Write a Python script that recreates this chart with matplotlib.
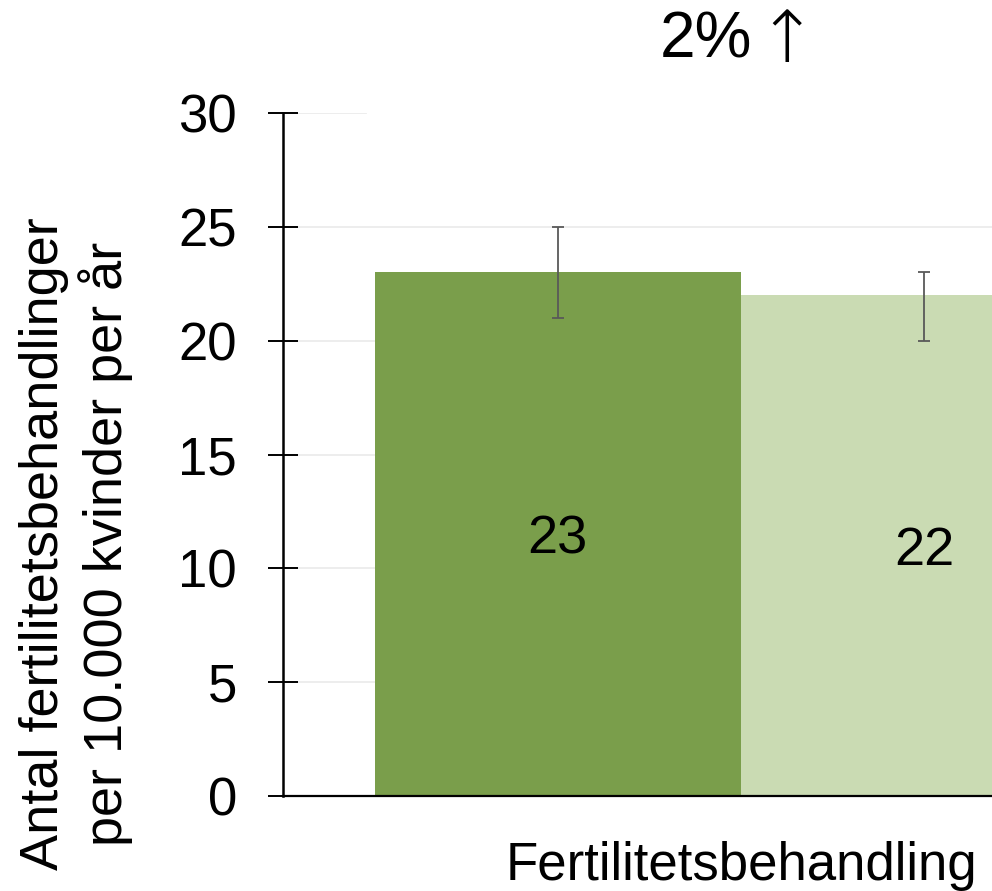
import matplotlib
matplotlib.use("Agg")
import matplotlib.pyplot as plt
import numpy as np

plt.rcParams['font.family'] = ['Liberation Sans', 'DejaVu Sans']

category = ["Fertilitetsbehandling"]
series_names = ["Periode 1", "Periode 2"]
values = [23, 22]
err_low = [21, 20]
err_high = [25, 23]
colors = ["#7a9e4b", "#cadbb3"]
yticks = [0, 5, 10, 15, 20, 25, 30]
change_pct = "2%"
change_arrow = "\u2191"
ylabel_text = "Antal fertilitetsbehandlinger\nper 10.000 kvinder per år"

W, H = 992, 891
fig = plt.figure(figsize=(W / 100, H / 100), dpi=100)
ax_left, ax_right = 283, 1199
ax_top, ax_bot = 113, 796
ax = fig.add_axes([ax_left / W, 1 - ax_bot / H, (ax_right - ax_left) / W, (ax_bot - ax_top) / H])

width = 0.4
offsets = [-width / 2, width / 2]
for i, (v, lo, hi, c) in enumerate(zip(values, err_low, err_high, colors)):
    x = offsets[i]
    ax.bar(x, v, width=width, color=c, zorder=2)
    ax.errorbar(x, v, yerr=[[v - lo], [hi - v]], fmt='none', ecolor="#595959",
                elinewidth=1.3, capsize=4.5, capthick=1.3, zorder=3)
    ax.text(x, v / 2, str(v), ha='center', va='center_baseline', fontsize=39, color='black', zorder=4)

ax.set_xlim(-0.5, 0.5)
ax.set_ylim(0, 30)
ax.set_yticks(yticks)
ax.set_yticklabels([str(t) for t in yticks], fontsize=38)
ax.set_xticks([])

for t in yticks[1:-1]:
    ax.axhline(t, color="#ececec", lw=1.3, zorder=1)
ax.axhline(30, xmin=0, xmax=(366 - ax_left) / (ax_right - ax_left), color="#ececec", lw=1.3, zorder=1)

for s in ['top', 'right']:
    ax.spines[s].set_visible(False)
ax.spines['left'].set_linewidth(1.8)
ax.spines['bottom'].set_linewidth(1.6)
ax.tick_params(axis='y', direction='inout', length=22.3, width=1.4, pad=22, color='black')

fig.text(741 / W, 1 - 880 / H, category[0], ha='center', va='baseline', fontsize=38)
fig.text(76 / W, 1 - 544 / H, ylabel_text, rotation=90, ha='center', va='center',
         fontsize=39, multialignment='center', linespacing=1.22)
fig.text(706 / W, 1 - 57 / H, change_pct, ha='center', va='baseline', fontsize=46)
fig.text(787 / W, 1 - 42 / H, change_arrow, ha='center', va='center', fontsize=52,
         family='DejaVu Sans', fontweight='light')

fig.savefig("out.png", dpi=100)
